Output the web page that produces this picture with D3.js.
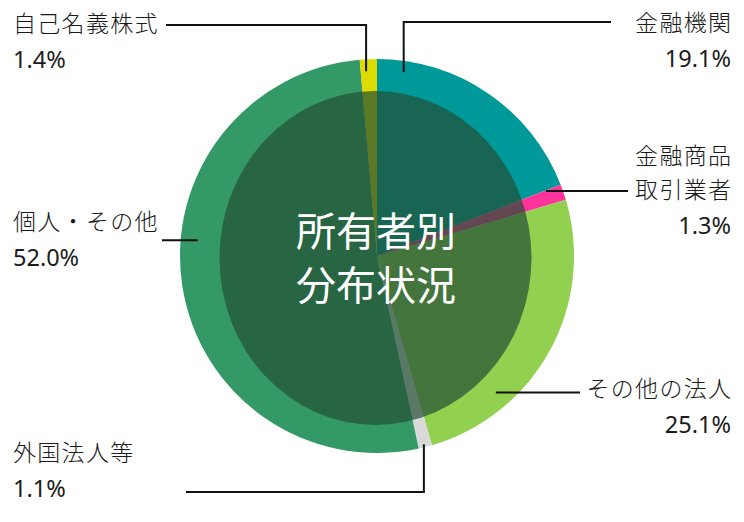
<!DOCTYPE html>
<html>

<head>
    <meta charset="utf-8">
    <script type="text/javascript" src="https://cdnjs.cloudflare.com/ajax/libs/d3/7.8.5/d3.min.js"></script>
    <style>
        body {
            margin: 0;
            background: #ffffff;
        }

        svg text {
            font-family: "Noto Sans CJK JP", "Noto Sans", sans-serif;
            fill: #1a1a1a;
        }

        .label {
            font-size: 23px;
            font-weight: 300;
        }

        .label .num {
            font-family: "Noto Sans", sans-serif;
            font-size: 23.5px;
            font-weight: 400;
        }

        .title {
            font-size: 40px;
            font-weight: 400;
            fill: #ffffff;
            text-anchor: middle;
        }
    </style>
</head>

<body>
    <script>
        // 所有者別分布状況 (%)
        var categories = ['金融機関', '金融商品取引業者', 'その他の法人', '外国法人等', '個人・その他', '自己名義株式'];
        var labelLines = [['金融機関'], ['金融商品', '取引業者'], ['その他の法人'], ['外国法人等'], ['個人・その他'], ['自己名義株式']];
        var values = [19.1, 1.3, 25.1, 1.1, 52.0, 1.4];
        var colors = ['#009999', '#ff3399', '#92d050', '#d9d9d9', '#339966', '#dcdc00'];
        var title = ['所有者別', '分布状況'];

        var width = 744,
            height = 522,
            cx = 377,
            cy = 256,
            radius = 197;

        // label layout: where along the slice the leader starts, and where the text sits
        var layout = [
            { f: 0.12, r: 186, route: 'up', y: 22, x2: 611, tx: 731, ty: 31, anchor: 'end' },
            { f: 0.05, r: 181, route: 'side', x2: 628, tx: 731, ty: 164, anchor: 'end' },
            { f: 0.725, r: 181, route: 'side', x2: 580, tx: 731, ty: 397, anchor: 'end' },
            { f: 0.56, r: 194, route: 'down', y: 492, x2: 186, tx: 13, ty: 461, anchor: 'start' },
            { f: 0.573, r: 180, route: 'side', x2: 162, tx: 13, ty: 230, anchor: 'start' },
            { f: 0.33, r: 185, route: 'up', y: 25, x2: 166, tx: 13, ty: 32, anchor: 'start' }
        ];
        var spacing = 1.3;

        var svg = d3.select('body')
            .append('svg')
            .attr('width', width)
            .attr('height', height);

        var pie = d3.pie().sort(null).value(function(d) { return d; });
        var arcs = pie(values);

        var arc = d3.arc().innerRadius(0).outerRadius(radius);

        var g = svg.append('g')
            .attr('transform', 'translate(' + cx + ',' + cy + ')');

        g.selectAll('path')
            .data(arcs)
            .enter()
            .append('path')
            .attr('d', arc)
            .attr('fill', function(d, i) { return colors[i]; });

        // darker inner disc
        svg.append('ellipse')
            .attr('cx', 375.5)
            .attr('cy', 258)
            .attr('rx', 156)
            .attr('ry', 167)
            .attr('fill', 'rgb(36,78,52)')
            .attr('fill-opacity', 0.7);

        // leader lines
        arcs.forEach(function(d, i) {
            var L = layout[i];
            var a = d.startAngle + L.f * (d.endAngle - d.startAngle);
            var px = cx + L.r * Math.sin(a),
                py = cy - L.r * Math.cos(a);
            var pts;
            if (L.route === 'side') {
                pts = [[px, py], [L.x2, py]];
            } else {
                pts = [[px, py], [px, L.y], [L.x2, L.y]];
            }
            svg.append('path')
                .attr('d', d3.line()(pts))
                .attr('fill', 'none')
                .attr('stroke', '#111')
                .attr('stroke-width', 2);
        });

        // labels
        arcs.forEach(function(d, i) {
            var L = layout[i];
            var lines = labelLines[i];
            lines.forEach(function(s, j) {
                svg.append('text')
                    .attr('class', 'label')
                    .attr('text-anchor', L.anchor)
                    .attr('x', L.anchor === 'end' ? L.tx + spacing : L.tx)
                    .attr('y', L.ty + j * 34)
                    .style('letter-spacing', spacing + 'px')
                    .text(s);
            });
            svg.append('text')
                .attr('class', 'label')
                .attr('text-anchor', L.anchor)
                .attr('x', L.tx)
                .attr('y', L.ty + lines.length * 34 + 2)
                .append('tspan')
                .attr('class', 'num')
                .text(d3.format('.1f')(values[i]) + '%');
        });

        // centre title
        svg.append('text')
            .attr('class', 'title')
            .selectAll('tspan')
            .data(title)
            .enter()
            .append('tspan')
            .attr('x', 376)
            .attr('y', function(d, i) { return 246 + i * 54; })
            .text(function(d) { return d; });
    </script>
</body>

</html>
